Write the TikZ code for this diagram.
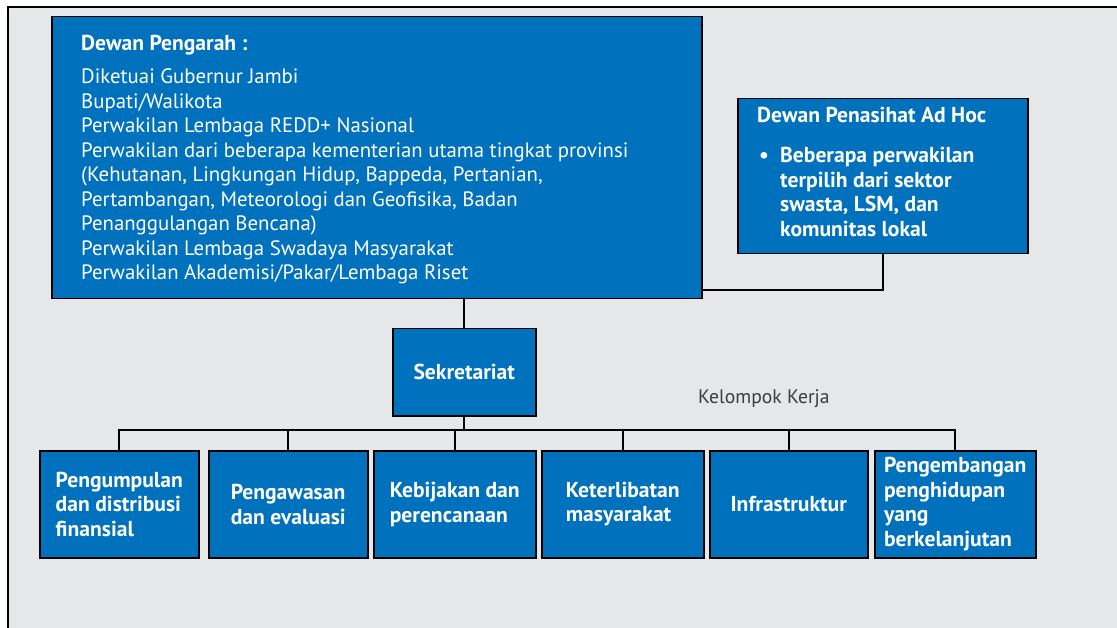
\documentclass[tikz,border=0pt]{standalone}
\usepackage{fontspec}
\setmainfont{PT Sans}
\definecolor{bg}{HTML}{E6E7E8}
\definecolor{boxblue}{HTML}{0071BC}
\definecolor{labelgray}{HTML}{3C3C3C}
\newcommand{\bodyfont}{\fontsize{20.8}{24.5}\selectfont}
\newcommand{\boldfont}{\fontsize{21.6}{24.5}\selectfont\bfseries}
\begin{document}
\begin{tikzpicture}[x=1pt,y=-1pt,
  bluebox/.style={draw=black, line width=1.5pt, fill=boxblue, text=white, inner sep=0pt, anchor=north west},
  boxtext/.style={text=white, inner sep=0pt, align=left, font=\bodyfont},
  link/.style={draw=black, line width=2pt},
  wgbox/.style={bluebox, minimum height=107pt, font=\boldfont, align=left},
]
\useasboundingbox (0,0) rectangle (1117,628);
\fill[bg] (8,7) rectangle (1117,628);
\draw[line width=1.5pt] (8,628) -- (8,7) -- (1117,7);

% Dewan Pengarah
\node[bluebox, minimum width=650pt, minimum height=282pt] (pengarah) at (51,16) {};
\node[boxtext, anchor=north west] (pengarahtext) at (81,35)
  {{\boldfont Dewan Pengarah :}\\[8.5pt]
   Diketuai Gubernur Jambi\\
   Bupati/Walikota\\
   Perwakilan Lembaga REDD+ Nasional\\
   Perwakilan dari beberapa kementerian utama tingkat provinsi\\
   (Kehutanan, Lingkungan Hidup, Bappeda, Pertanian,\\
   Pertambangan, Meteorologi dan Geofisika, Badan\\
   Penanggulangan Bencana)\\
   Perwakilan Lembaga Swadaya Masyarakat\\
   Perwakilan Akademisi/Pakar/Lembaga Riset};

% Dewan Penasihat Ad Hoc
\node[bluebox, minimum width=290pt, minimum height=155pt] (adhoc) at (737,98) {};
\node[boxtext, anchor=base west, font=\boldfont] (adhoctitle) at (757,123) {Dewan Penasihat Ad Hoc};
\node[boxtext, anchor=north west, font=\boldfont] (adhocitems) at (757,147)
  {\makebox[23pt][l]{\hspace{2pt}•}Beberapa perwakilan\\
   \hspace*{23pt}terpilih dari sektor\\
   \hspace*{23pt}swasta, LSM, dan\\
   \hspace*{23pt}komunitas lokal};
\coordinate (adhocjoin) at (701,290);

% Sekretariat
\node[bluebox, minimum width=143pt, minimum height=87pt, font=\boldfont] (sek) at (392,328) {Sekretariat};

\node[anchor=base west, inner sep=0pt, text=labelgray, font=\fontsize{19.6}{24}\selectfont] (kk) at (698,403) {Kelompok Kerja};

% Working groups
\node[wgbox, minimum width=159pt] (w1) at (39,450) {Pengumpulan\\dan distribusi\\finansial};
\node[wgbox, minimum width=159pt] (w2) at (208,450) {Pengawasan\\dan evaluasi};
\node[wgbox, minimum width=162pt] (w3) at (373,450) {Kebijakan dan\\perencanaan};
\node[wgbox, minimum width=162pt] (w4) at (541,450) {Keterlibatan\\masyarakat};
\node[wgbox, minimum width=158pt] (w5) at (709,450) {Infrastruktur};
\node[wgbox, minimum width=161pt] (w6) at (874,450) {Pengembangan\\penghidupan\\yang\\berkelanjutan};

\coordinate (bus) at (0,430);

% connectors
\draw[link] (adhoc.south) |- (adhocjoin);
\draw[link] (sek.north) -- (sek.north |- pengarah.south);
\draw[link] (sek.south) -- (sek.south |- bus);
\draw[link, line cap=rect] (w1.north |- bus) -- (w6.north |- bus);
\foreach \w in {w1,w2,w3,w4,w5,w6} {
  \draw[link] (\w.north) -- (\w.north |- bus);
}
\end{tikzpicture}
\end{document}
